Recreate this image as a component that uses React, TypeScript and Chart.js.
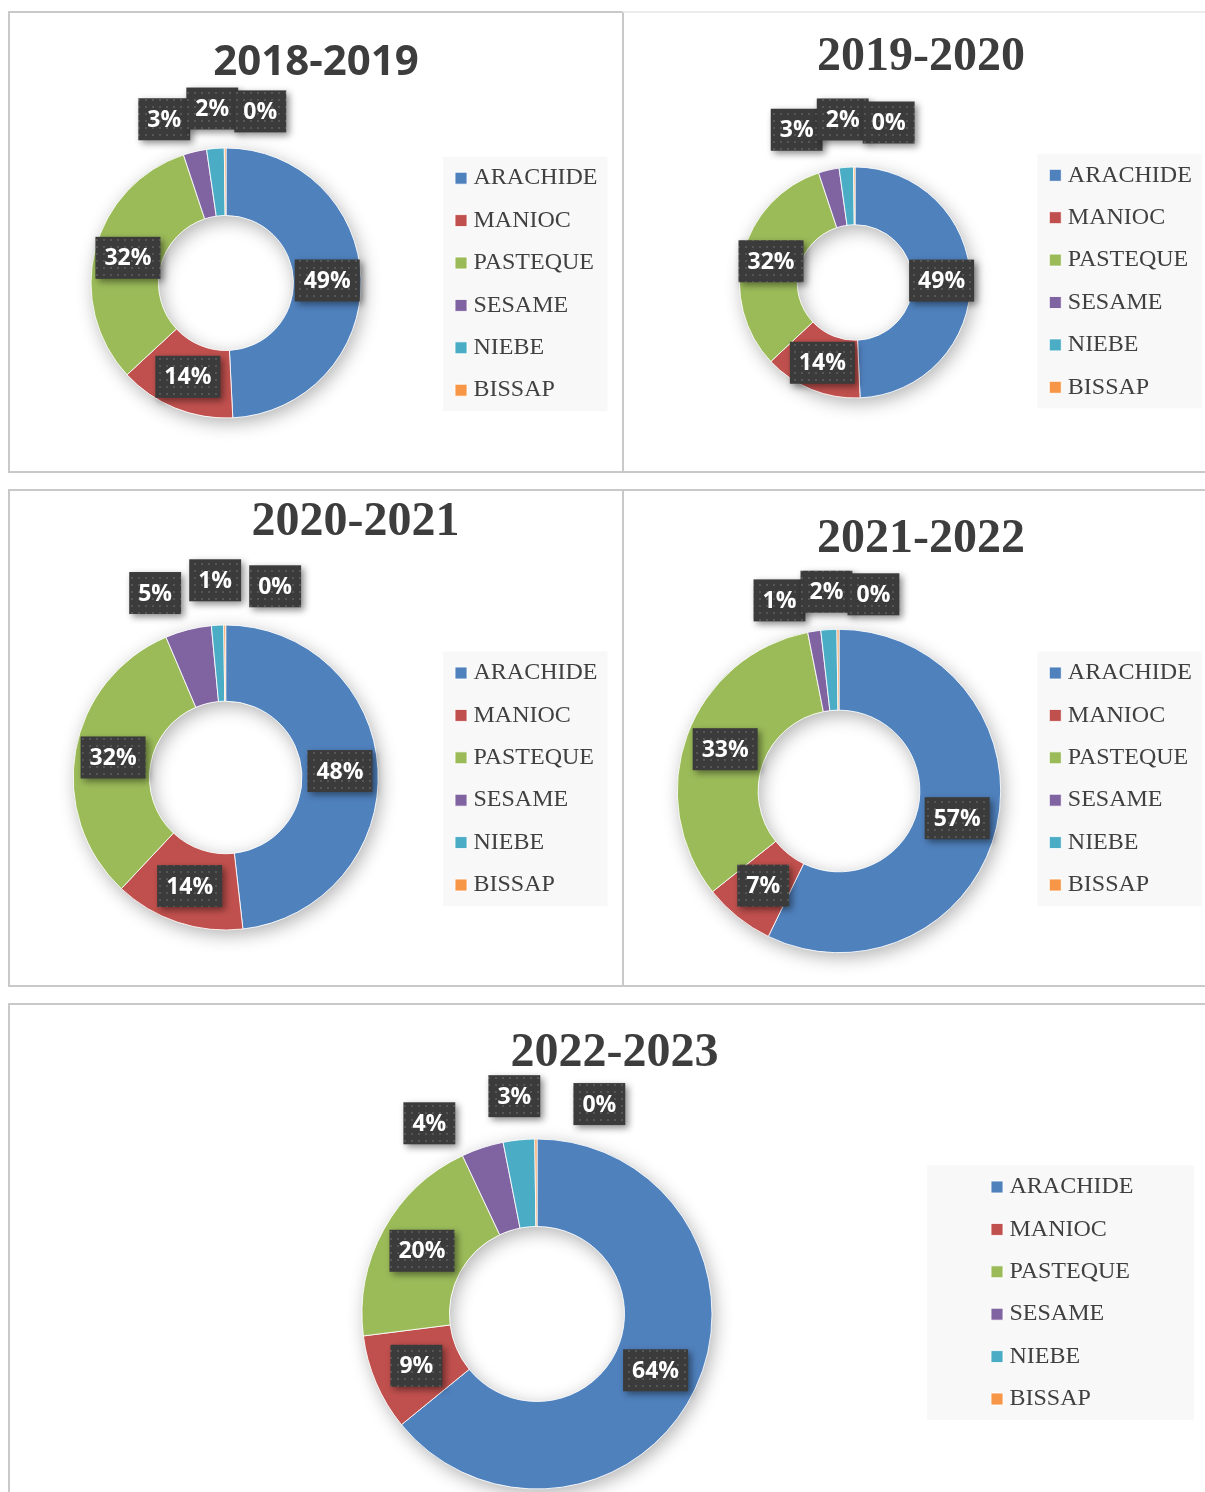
import React, { useEffect, useRef } from 'react';
import { Chart, registerables } from 'chart.js';

Chart.register(...registerables);

// ---------- data ----------
const CATEGORIES = ['ARACHIDE', 'MANIOC', 'PASTEQUE', 'SESAME', 'NIEBE', 'BISSAP'];
const SEASONS = ['2018-2019', '2019-2020', '2020-2021', '2021-2022', '2022-2023'];
const SHARES_2018_2019 = [49.2, 13.9, 31.8, 2.8, 2.1, 0.2];
const SHARES_2019_2020 = [49.3, 13.7, 31.9, 2.9, 2.0, 0.2];
const SHARES_2020_2021 = [48.2, 13.8, 31.6, 4.9, 1.3, 0.2];
const SHARES_2021_2022 = [57.2, 7.1, 32.6, 1.3, 1.6, 0.2];
const SHARES_2022_2023 = [64.1, 8.9, 20.0, 3.9, 2.9, 0.2];
const SERIES = [SHARES_2018_2019, SHARES_2019_2020, SHARES_2020_2021, SHARES_2021_2022, SHARES_2022_2023];

// ---------- styles ----------
const COLORS = ['#4f81bd', '#c0504d', '#9bbb59', '#8064a2', '#4bacc6', '#f79646'];
const LEGEND_FAMILY = "'Liberation Serif', 'Times New Roman', serif";
const LEGEND_SIZE = 24;
const LEGEND_PAD = 18.4;
const LEGEND_ITEM_H = 24;
const LABEL_FONT = "bold 23px 'Open Sans', sans-serif";
const LABEL_H = 42;
const OUTSIDE_SHARE = 0.06;
const SANS_TITLE = { family: "'Open Sans', sans-serif", size: 42, weight: 'bold' };
const SERIF_TITLE = { family: "'Liberation Serif', 'Times New Roman', serif", size: 48, weight: 'bold' };

type Panel = {
  canvas: { x: number; y: number; w: number; h: number };
  cx: number; cy: number; r: number;
  titleX: number; titleY: number;
  titleFont: { family: string; size: number; weight: string };
  markerX: number; firstRowY: number;
  bgPad: [number, number];
  outOffset: number; outSep: number;
};

const PANELS: Panel[] = [
  { canvas: { x: 10, y: 13, w: 612, h: 458 }, cx: 226, cy: 283, r: 135, titleX: 316, titleY: 63.5, titleFont: SANS_TITLE,
    markerX: 455, firstRowY: 178.2, bgPad: [12, 10], outOffset: 40, outSep: 48 },
  { canvas: { x: 624, y: 13, w: 620, h: 458 }, cx: 855, cy: 282.5, r: 115.5, titleX: 921, titleY: 58, titleFont: SERIF_TITLE,
    markerX: 1049.3, firstRowY: 175.3, bgPad: [12, 10], outOffset: 48, outSep: 46 },
  { canvas: { x: 10, y: 491, w: 612, h: 494 }, cx: 225.7, cy: 777.5, r: 152.5, titleX: 355.5, titleY: 523, titleFont: SERIF_TITLE,
    markerX: 455, firstRowY: 673, bgPad: [12, 10], outOffset: 45, outSep: 60 },
  { canvas: { x: 624, y: 491, w: 620, h: 494 }, cx: 839, cy: 791, r: 161.7, titleX: 921, titleY: 540, titleFont: SERIF_TITLE,
    markerX: 1049.3, firstRowY: 673, bgPad: [12, 10], outOffset: 38, outSep: 47 },
  { canvas: { x: 10, y: 1005, w: 1234, h: 487 }, cx: 537, cy: 1314, r: 175, titleX: 614.5, titleY: 1054, titleFont: SERIF_TITLE,
    markerX: 991, firstRowY: 1187, bgPad: [64, 60.5], outOffset: 44, outSep: 85 },
];

const BORDERS = [
  { x: 8, y: 11, w: 616, h: 462, top: '#c9c9c9' },
  { x: 622, y: 11, w: 600, h: 462, top: '#ebebeb' },
  { x: 8, y: 489, w: 616, h: 498, top: '#c9c9c9' },
  { x: 622, y: 489, w: 600, h: 498, top: '#c9c9c9' },
  { x: 8, y: 1003, w: 1210, h: 510, top: '#c9c9c9' },
];

function makePattern(ctx: CanvasRenderingContext2D): CanvasPattern | string {
  const c = document.createElement('canvas');
  c.width = 7; c.height = 7;
  const g = c.getContext('2d');
  if (!g) return '#3c3c3c';
  g.fillStyle = '#3b3b3b';
  g.fillRect(0, 0, 7, 7);
  g.fillStyle = '#565656';
  g.fillRect(2, 2, 2, 2);
  return ctx.createPattern(c, 'repeat') || '#3c3c3c';
}

function makeLabelPlugin(p: Panel) {
  let pattern: CanvasPattern | string | null = null;
  return {
    id: 'pctLabels',
    afterDatasetsDraw(chart: any) {
      const ctx: CanvasRenderingContext2D = chart.ctx;
      if (!pattern) pattern = makePattern(ctx);
      const meta = chart.getDatasetMeta(0);
      const values: number[] = chart.data.datasets[0].data;
      const total = values.reduce((a, b) => a + b, 0);
      ctx.save();
      ctx.font = LABEL_FONT;
      type Lab = { text: string; w: number; x: number; y: number; nx: number; up: boolean; outside: boolean };
      const labs: Lab[] = [];
      let cx = 0, cy = 0, outerR = 0;
      meta.data.forEach((arc: any, i: number) => {
        const pr = arc.getProps(['x', 'y', 'startAngle', 'endAngle', 'innerRadius', 'outerRadius'], true);
        cx = pr.x; cy = pr.y; outerR = pr.outerRadius;
        const mid = (pr.startAngle + pr.endAngle) / 2;
        const share = values[i] / total;
        const text = Math.round(share * 100) + '%';
        const w = ctx.measureText(text).width + 18;
        const outside = share < OUTSIDE_SHARE;
        const rad = outside ? pr.outerRadius + p.outOffset : (pr.innerRadius + pr.outerRadius) / 2;
        const x = pr.x + Math.cos(mid) * rad;
        labs.push({ text, w, x, y: pr.y + Math.sin(mid) * rad, nx: x, up: Math.sin(mid) < 0, outside });
      });
      // outside labels: group overlapping ones, anchor each group on its middle label, spread the others sideways
      const outs = labs.filter((l) => l.outside).sort((a, b) => a.nx - b.nx);
      type Cl = { items: Lab[] };
      const anchor = (c: Cl) => {
        const k = c.items.length;
        return k % 2 ? c.items[(k - 1) / 2].nx : (c.items[k / 2 - 1].nx + c.items[k / 2].nx) / 2;
      };
      const posOf = (c: Cl, j: number) => anchor(c) + (j - (c.items.length - 1) / 2) * p.outSep;
      const clusters: Cl[] = [];
      outs.forEach((l) => {
        clusters.push({ items: [l] });
        while (clusters.length > 1) {
          const a = clusters[clusters.length - 2];
          const b = clusters[clusters.length - 1];
          if (posOf(b, 0) - posOf(a, a.items.length - 1) < p.outSep - 0.01) {
            a.items.push(...b.items);
            clusters.pop();
          } else break;
        }
      });
      const R = outerR + p.outOffset;
      clusters.forEach((c) => c.items.forEach((l, j) => {
        l.x = posOf(c, j);
        const dx = Math.min(Math.abs(l.x - cx), R);
        const dy = Math.sqrt(R * R - dx * dx);
        l.y = l.up ? cy - dy : cy + dy;
      }));
      labs.forEach((l) => {
        const bx = l.x - l.w / 2;
        const by = l.y - LABEL_H / 2;
        ctx.save();
        ctx.shadowColor = 'rgba(0,0,0,0.45)';
        ctx.shadowBlur = 7;
        ctx.shadowOffsetX = 3;
        ctx.shadowOffsetY = 3;
        ctx.fillStyle = pattern as any;
        ctx.fillRect(bx, by, l.w, LABEL_H);
        ctx.restore();
        ctx.fillStyle = '#ffffff';
        ctx.textAlign = 'center';
        ctx.textBaseline = 'middle';
        ctx.fillText(l.text, l.x, l.y + 1);
      });
      ctx.restore();
    },
  };
}

const ringShadow = {
  id: 'ringShadow',
  beforeDatasetsDraw(chart: any) {
    const arc: any = chart.getDatasetMeta(0).data[0];
    if (!arc) return;
    const { x, y, innerRadius, outerRadius } = arc.getProps(['x', 'y', 'innerRadius', 'outerRadius'], true);
    const ctx: CanvasRenderingContext2D = chart.ctx;
    ctx.save();
    ctx.shadowColor = 'rgba(0,0,0,0.30)';
    ctx.shadowBlur = 18;
    ctx.shadowOffsetX = 3;
    ctx.shadowOffsetY = 5;
    ctx.beginPath();
    ctx.arc(x, y, outerRadius, 0, Math.PI * 2);
    ctx.arc(x, y, innerRadius, 0, Math.PI * 2, true);
    ctx.fillStyle = '#ffffff';
    ctx.fill();
    ctx.restore();
  },
};

function buildConfig(p: Panel, i: number, maxTextW: number): any {
  const X0 = p.canvas.x, Y0 = p.canvas.y;
  const legendLeft = p.markerX - LEGEND_PAD + 5.5;
  const legendW = LEGEND_PAD + 1 + LEGEND_SIZE / 2 + maxTextW + 10;
  const legendRight = legendLeft + legendW;
  const padL = Math.max(0, 2 * p.titleX - legendRight - X0);
  const padR = p.canvas.w - (legendRight - X0);
  const delta = 2 * (p.cx - X0) - padL - (legendLeft - X0);

  const colH = 6 * (LEGEND_ITEM_H + LEGEND_PAD);
  const base = p.cy - p.firstRowY + LEGEND_PAD + LEGEND_ITEM_H / 2;
  const tH = Math.max(1, Math.ceil(LEGEND_PAD + colH + 2 - 2 * base));
  const half = base + tH;
  const chartTop = p.cy - half - Y0;
  const chartBottom = p.cy + half - Y0;
  const lineH = p.titleFont.size * 1.2;
  const tpTop = p.titleY - Y0 - lineH / 2;
  const tpBot = Math.max(0, chartTop - tpTop - lineH);
  const padB = p.canvas.h - chartBottom;

  const gapW = Math.abs(delta);
  // an invisible spacer axis (not drawn) that offsets the ring from the legend
  const scales: any = gapW > 0.5 ? {
    gap: {
      type: 'linear',
      position: delta > 0 ? 'left' : 'right',
      display: false,
      afterFit: (s: any) => { s.width = gapW; },
    },
  } : {};

  const legendBg = {
    id: 'legendBg',
    beforeDraw(chart: any) {
      const L: any = chart.legend;
      if (!L) return;
      const ctx: CanvasRenderingContext2D = chart.ctx;
      const markerLeft = L.left + LEGEND_PAD - 5.5;
      const firstC = L.top + tH + LEGEND_PAD + LEGEND_ITEM_H / 2;
      const lastC = firstC + 5 * (LEGEND_ITEM_H + LEGEND_PAD);
      ctx.save();
      ctx.fillStyle = '#f8f8f8';
      ctx.fillRect(markerLeft - p.bgPad[0], firstC - 21.5,
        18.5 + maxTextW + p.bgPad[0] + p.bgPad[1], lastC - firstC + 42.5);
      ctx.restore();
    },
  };

  return {
    type: 'doughnut',
    data: {
      labels: CATEGORIES,
      datasets: [{
        data: SERIES[i],
        backgroundColor: COLORS,
        borderColor: 'rgba(255,255,255,0.85)',
        borderWidth: 1,
        radius: p.r,
        cutout: '50%',
        clip: false,
      }],
    },
    options: {
      responsive: false,
      animation: false,
      devicePixelRatio: 1,
      events: [],
      radius: p.r,
      cutout: '50%',
      layout: { padding: { left: padL, right: padR, top: 0, bottom: padB } },
      scales,
      plugins: {
        tooltip: { enabled: false },
        title: {
          display: true,
          text: SEASONS[i],
          color: '#3d3d3d',
          font: { family: p.titleFont.family, size: p.titleFont.size, weight: p.titleFont.weight, lineHeight: 1.2 },
          padding: { top: tpTop, bottom: tpBot },
        },
        legend: {
          display: true,
          position: 'right',
          fullSize: false,
          align: 'start',
          title: { display: true, text: ' ', font: { size: 1, lineHeight: 1 }, padding: { top: tH - 1, bottom: 0 } },
          labels: {
            usePointStyle: true,
            pointStyle: 'rect',
            boxWidth: 1,
            boxHeight: 12,
            padding: LEGEND_PAD,
            color: '#404040',
            font: { family: LEGEND_FAMILY, size: LEGEND_SIZE },
          },
        },
      },
    },
    plugins: [legendBg, ringShadow, makeLabelPlugin(p)],
  };
}

export default function App() {
  const refs = useRef<(HTMLCanvasElement | null)[]>([]);

  useEffect(() => {
    const charts: Chart[] = [];
    const mctx = document.createElement('canvas').getContext('2d');
    let maxTextW = 124;
    if (mctx) {
      mctx.font = `normal ${LEGEND_SIZE}px ${LEGEND_FAMILY}`;
      maxTextW = Math.max(...CATEGORIES.map((t) => mctx.measureText(t).width));
    }
    PANELS.forEach((p, i) => {
      const cv = refs.current[i];
      if (!cv) return;
      charts.push(new Chart(cv, buildConfig(p, i, maxTextW)));
    });
    return () => charts.forEach((c) => c.destroy());
  }, []);

  return (
    <div style={{ position: 'absolute', left: 0, top: 0, width: 1205, height: 1492, overflow: 'hidden', background: '#ffffff' }}>
      {BORDERS.map((b, i) => (
        <div key={'b' + i} style={{
          position: 'absolute', left: b.x, top: b.y, width: b.w, height: b.h, boxSizing: 'border-box',
          border: '2px solid #c9c9c9', borderTopColor: b.top,
        }} />
      ))}
      {PANELS.map((p, i) => (
        <canvas
          key={'c' + i}
          ref={(el) => { refs.current[i] = el; }}
          width={p.canvas.w}
          height={p.canvas.h}
          style={{ position: 'absolute', left: p.canvas.x, top: p.canvas.y, width: p.canvas.w, height: p.canvas.h }}
        />
      ))}
    </div>
  );
}
